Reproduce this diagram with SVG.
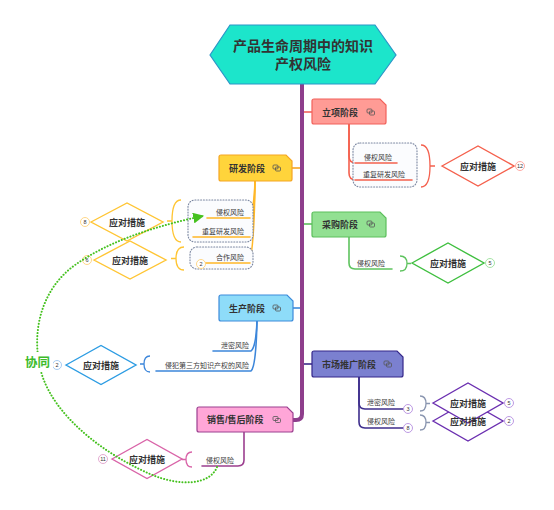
<svg xmlns="http://www.w3.org/2000/svg" width="554" height="510" viewBox="0 0 554 510">
<defs>
<style>
text{font-family:"Liberation Sans","Noto Sans CJK SC",sans-serif;fill:#333;}
.stage{font-size:9px;font-weight:bold;}
.small{font-size:7px;fill:#3a3a3a;}
.act{font-size:9px;font-weight:bold;text-anchor:middle;}
.num{font-size:5.5px;text-anchor:middle;}
.br{fill:none;stroke-width:1.6;stroke-linecap:round;}
.paren{fill:none;stroke-width:1.3;}
.dbox{fill:#fbfcfe;stroke:#7a86a0;stroke-width:1.1;stroke-dasharray:1 1.8;stroke-linecap:round;}
.dia{fill:#fff;stroke-width:1.4;}
.nc{fill:#fff;stroke-width:0.9;}
.icon{fill:none;stroke:#555;stroke-width:0.8;}
</style>
<marker id="garrow" viewBox="0 0 10 10" refX="9" refY="5" markerWidth="5.5" markerHeight="5.5" orient="auto" markerUnits="strokeWidth">
<path d="M0,0 L10,5 L0,10 Z" fill="#45C11F"/>
</marker>
</defs>
<rect width="554" height="510" fill="#fff"/>

<g id="connectors">
<path d="M302,84 V414 Q302,420 296,420 H293" fill="none" stroke="#8E3E8C" stroke-width="4"/>
<path d="M304,112 H312" stroke="#F2625A" stroke-width="1.6"/>
<path d="M292,168 H300" stroke="#F5A623" stroke-width="1.6"/>
<path d="M304,224 H312" stroke="#5CBF5C" stroke-width="1.6"/>
<path d="M293,308 H300" stroke="#3C8BDB" stroke-width="1.6"/>
<path d="M304,364 H312" stroke="#3A2A8A" stroke-width="1.6"/>
<path class="br" stroke="#F4604E" d="M349,124 V156 Q349,163 356,163 H397"/>
<path class="br" stroke="#F4604E" d="M349,124 V173 Q349,180 356,180 H412"/>
<path class="br" stroke="#FFB727" d="M255,181 Q254,214 248,218 H207"/>
<path class="br" stroke="#FFB727" d="M255,181 Q254,233 248,237 H193"/>
<path class="br" stroke="#FFB727" d="M255,181 Q254,259 248,263 H203"/>
<path class="br" stroke="#5EC35E" d="M349,237 V263 Q349,269 355,269 H392"/>
<path class="br" stroke="#3C86DA" d="M257,321 Q256,347 251,351 H213"/>
<path class="br" stroke="#3C86DA" d="M257,321 Q256,367 251,371 H156"/>
<path class="br" stroke="#3E2D8C" d="M359,377 V403 Q359,409 365,409 H403"/>
<path class="br" stroke="#3E2D8C" d="M359,377 V422 Q359,428 365,428 H403"/>
<path class="br" stroke="#9C3F8F" d="M244,432 V460 Q244,466 238,466 H202"/>
</g>

<g id="center">
<path d="M210,55 L230,25 H375 L396,55 L375,84 H230 Z" fill="#1CE5CB" stroke="#2B95C8" stroke-width="1.2"/>
<text x="303" y="51" font-size="14" font-weight="bold" text-anchor="middle">产品生命周期中的知识</text>
<text x="303" y="69" font-size="14" font-weight="bold" text-anchor="middle">产权风险</text>
</g>

<g id="lixiang">
<path d="M314,99 H380 L386,105 V122 Q386,124 384,124 H314 Q312,124 312,122 V101 Q312,99 314,99 Z" fill="#FF9B95" stroke="#F2615A" stroke-width="1.2"/>
<text class="stage" x="322" y="115.5">立项阶段</text>
<rect class="icon" x="367" y="109" width="5" height="4" rx="1"/><rect class="icon" x="369.5" y="111" width="5" height="4" rx="1"/>
</g>
<g id="lixiang-risks">
<rect class="dbox" x="353" y="143" width="64" height="44" rx="7"/>
<path class="br" stroke="#F4604E" d="M355,163 H397 M355,180 H412"/>
<text class="small" x="364" y="160">侵权风险</text>
<text class="small" x="363" y="177">重复研发风险</text>
<path class="paren" stroke="#F4604E" d="M421,145 Q430,145 430,166 Q430,187 421,187 M430,166 H435"/>
</g>
<g id="lixiang-measure">
<polygon class="dia" stroke="#F5604C" points="442,166 478,146 514,166 478,186"/>
<text class="act" x="478" y="169.5">应对措施</text>
<circle class="nc" stroke="#FFA09A" cx="520" cy="166" r="4.5"/>
<text class="num" x="520" y="168" fill="#F08A7F">12</text>
</g>

<g id="yanfa">
<path d="M221,155 H286 L292,161 V179 Q292,181 290,181 H221 Q219,181 219,179 V157 Q219,155 221,155 Z" fill="#FFD43B" stroke="#F5A623" stroke-width="1.2"/>
<text class="stage" x="229" y="171.5">研发阶段</text>
<rect class="icon" x="273" y="165" width="5" height="4" rx="1"/><rect class="icon" x="275.5" y="167" width="5" height="4" rx="1"/>
</g>
<g id="yanfa-risks">
<rect class="dbox" x="188" y="200" width="65" height="42" rx="7"/>
<rect class="dbox" x="190" y="247" width="63" height="22" rx="7"/>
<path class="br" stroke="#FFB727" d="M207,218 H250 M193,237 H250 M203,263 H250"/>
<text class="small" x="244" y="214.5" text-anchor="end">侵权风险</text>
<text class="small" x="244" y="233.5" text-anchor="end">重复研发风险</text>
<text class="small" x="244" y="259.5" text-anchor="end">合作风险</text>
<circle class="nc" stroke="#FFD27A" cx="201" cy="264" r="4.5"/>
<text class="num" x="201" y="266" fill="#F5B940">2</text>
<path class="paren" stroke="#FFC533" d="M181,200 Q172,200 172,221 Q172,242 181,242 M172,221 H167"/>
<path class="paren" stroke="#FFC533" d="M184,247 Q176,247 176,258.5 Q176,270 184,270 M176,258.5 H171"/>
</g>
<g id="yanfa-measure1">
<polygon class="dia" stroke="#FFC533" points="91,222 127,203 163,222 127,241"/>
<text class="act" x="127" y="225.5">应对措施</text>
<circle class="nc" stroke="#FFD27A" cx="85" cy="222" r="4.5"/>
<text class="num" x="85" y="224" fill="#F5B940">8</text>
</g>
<g id="yanfa-measure2">
<polygon class="dia" stroke="#FFC533" points="94,260 130,241 166,260 130,279"/>
<text class="act" x="130" y="263.5">应对措施</text>
<circle class="nc" stroke="#FFD27A" cx="87" cy="260" r="4.5"/>
<text class="num" x="87" y="262" fill="#F5B940">6</text>
</g>

<g id="caigou">
<path d="M314,212 H380 L386,218 V235 Q386,237 384,237 H314 Q312,237 312,235 V214 Q312,212 314,212 Z" fill="#92E092" stroke="#5CBF5C" stroke-width="1.2"/>
<text class="stage" x="322" y="227.5">采购阶段</text>
<rect class="icon" x="367" y="221" width="5" height="4" rx="1"/><rect class="icon" x="369.5" y="223" width="5" height="4" rx="1"/>
</g>
<g id="caigou-risk">
<text class="small" x="357" y="265.5">侵权风险</text>
<path class="paren" stroke="#5EC35E" d="M400,256 Q407,256 407,263.5 Q407,271 400,271 M407,263.5 H411"/>
</g>
<g id="caigou-measure">
<polygon class="dia" stroke="#3FBF3F" points="412,263 448,243 484,263 448,283"/>
<text class="act" x="448" y="266.5">应对措施</text>
<circle class="nc" stroke="#9BE09B" cx="490" cy="263" r="4.5"/>
<text class="num" x="490" y="265" fill="#7ACB7A">5</text>
</g>

<g id="shengchan">
<path d="M221,295 H287 L293,301 V319 Q293,321 291,321 H221 Q219,321 219,319 V297 Q219,295 221,295 Z" fill="#8EDCF9" stroke="#3C8BDB" stroke-width="1.2"/>
<text class="stage" x="229" y="311.5">生产阶段</text>
<rect class="icon" x="273" y="305" width="5" height="4" rx="1"/><rect class="icon" x="275.5" y="307" width="5" height="4" rx="1"/>
</g>
<g id="shengchan-risks">
<text class="small" x="249" y="348" text-anchor="end">泄密风险</text>
<text class="small" x="249" y="367.5" text-anchor="end">侵犯第三方知识产权的风险</text>
<path class="paren" stroke="#3C86DA" d="M150,356 Q144,356 144,364 Q144,372 150,372 M144,364 H140"/>
</g>
<g id="shengchan-measure">
<polygon class="dia" stroke="#2C9CE3" fill="#F5F5F5" stroke-width="1.4" points="66,365 101,345.5 136,365 101,384.5"/>
<text class="act" x="101" y="368.5">应对措施</text>
<circle class="nc" stroke="#9CC5F0" cx="57" cy="365" r="4.5"/>
<text class="num" x="57" y="367" fill="#7FAEE6">2</text>
</g>

<g id="shichang">
<path d="M314,351 H397 L403,357 V375 Q403,377 401,377 H314 Q312,377 312,375 V353 Q312,351 314,351 Z" fill="#7B80D0" stroke="#35278A" stroke-width="1.2"/>
<text class="stage" x="322" y="367.5">市场推广阶段</text>
<rect class="icon" x="384" y="361" width="5" height="4" rx="1"/><rect class="icon" x="386.5" y="363" width="5" height="4" rx="1"/>
</g>
<g id="shichang-risks">
<text class="small" x="367" y="404.5">泄密风险</text>
<text class="small" x="367" y="423.5">侵权风险</text>
<circle class="nc" stroke="#B68FE0" cx="408" cy="409" r="4.5"/>
<text class="num" x="408" y="411" fill="#9B6FD0">3</text>
<circle class="nc" stroke="#B68FE0" cx="408" cy="428" r="4.5"/>
<text class="num" x="408" y="430" fill="#9B6FD0">8</text>
<path class="paren" stroke="#8A96B0" d="M420,396 Q426,396 426,403.5 Q426,411 420,411 M426,403.5 H430"/>
<path class="paren" stroke="#8A96B0" d="M420,415 Q426,415 426,422.5 Q426,430 420,430 M426,422.5 H430"/>
</g>
<g id="shichang-measures">
<polygon class="dia" stroke="#6B2FB0" points="433,421 468,401 503,421 468,441"/>
<polygon class="dia" stroke="#6B2FB0" points="433,403 468,383 503,403 468,423"/>
<text class="act" x="468" y="406.5">应对措施</text>
<text class="act" x="468" y="424.5">应对措施</text>
<circle class="nc" stroke="#B68FE0" cx="509" cy="403" r="4.5"/>
<text class="num" x="509" y="405" fill="#9B6FD0">5</text>
<circle class="nc" stroke="#B68FE0" cx="509" cy="421" r="4.5"/>
<text class="num" x="509" y="423" fill="#9B6FD0">2</text>
</g>

<g id="xiaoshou">
<path d="M199,407 H287 L293,413 V430 Q293,432 291,432 H199 Q197,432 197,430 V409 Q197,407 199,407 Z" fill="#FFA6D8" stroke="#9C4090" stroke-width="1.2"/>
<text class="stage" x="207" y="423">销售/售后阶段</text>
<rect class="icon" x="273" y="416.5" width="5" height="4" rx="1"/><rect class="icon" x="275.5" y="418.5" width="5" height="4" rx="1"/>
</g>
<g id="xiaoshou-risk">
<text class="small" x="206" y="462.5">侵权风险</text>
<path class="paren" stroke="#D964A8" d="M192,452 Q186,452 186,459.5 Q186,467 192,467 M186,459.5 H182"/>
</g>
<g id="xiaoshou-measure">
<polygon class="dia" stroke="#D964A8" points="112,459 147,439.5 182,459 147,478.5"/>
<text class="act" x="147" y="462.5">应对措施</text>
<circle class="nc" stroke="#E0A0CC" cx="103" cy="459" r="4.5"/>
<text class="num" x="103" y="461" fill="#D080B8">11</text>
</g>

<g id="relation">
<path d="M217,467 C210,485 180,487 150,474 C100,452 55,415 42,375 C30,335 40,290 75,265 C110,240 160,225 203,216" fill="none" stroke="#45C11F" stroke-width="2" stroke-dasharray="0.1 3" stroke-linecap="round" marker-end="url(#garrow)"/>
<rect x="23" y="352" width="30" height="19" fill="#fff"/>
<text x="25" y="367" font-size="12.5" font-weight="bold" style="fill:#3DBB2B">协同</text>
</g>
</svg>
